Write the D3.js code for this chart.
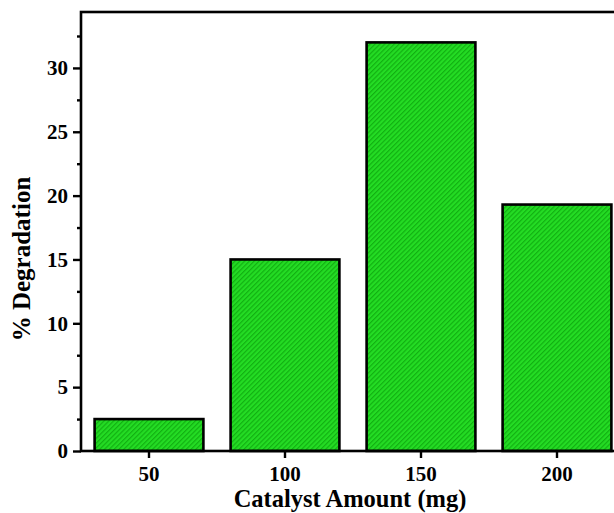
<!DOCTYPE html>
<html><head><meta charset="utf-8">
<script src="https://cdn.jsdelivr.net/npm/d3@7"></script>
<style>body{margin:0;background:#fff}svg{display:block}</style>
</head><body>
<svg id="c" width="614" height="513"></svg>
<script>
const categories = ["50", "100", "150", "200"];
const values = [2.5, 15, 32, 19.3];
const yTicks = [0, 5, 10, 15, 20, 25, 30];
const yMinorTicks = [2.5, 7.5, 12.5, 17.5, 22.5, 27.5, 32.5];
const xTitle = "Catalyst Amount (mg)";
const yTitle = "% Degradation";

const svg = d3.select("#c");
const pLeft = 81, pRight = 625, pTop = 12, pBottom = 451;
const font = "Liberation Serif, Times New Roman, serif";

const defs = svg.append("defs");
const pat = defs.append("pattern").attr("id", "hatch").attr("patternUnits", "userSpaceOnUse")
  .attr("width", 3.4).attr("height", 3.4).attr("patternTransform", "rotate(45)");
pat.append("rect").attr("width", 3.4).attr("height", 3.4).attr("fill", "#24dc24");
pat.append("rect").attr("x", 0).attr("width", 1.2).attr("height", 3.4).attr("fill", "#12b012");

const x = d3.scaleBand().domain(categories).range([pLeft, pRight]).paddingInner(0.2).paddingOuter(0.1);
const y = d3.scaleLinear().domain([0, 34.38]).range([pBottom, pTop]);

// bars
svg.append("g").selectAll("rect").data(values).join("rect")
  .attr("x", (d, i) => x(categories[i]))
  .attr("y", d => y(d))
  .attr("width", x.bandwidth())
  .attr("height", d => y(0) - y(d))
  .attr("fill", "url(#hatch)")
  .attr("stroke", "#000").attr("stroke-width", 2.6);

// frame
svg.append("rect").attr("x", pLeft).attr("y", pTop).attr("width", pRight - pLeft).attr("height", pBottom - pTop)
  .attr("fill", "none").attr("stroke", "#000").attr("stroke-width", 2.6);

// y axis
const yAxis = d3.axisLeft(y).tickValues(yTicks).tickSize(8).tickPadding(5).tickFormat(d3.format("d"));
const gy = svg.append("g").attr("transform", `translate(${pLeft},0)`).call(yAxis);
gy.select(".domain").remove();
gy.selectAll(".tick line").attr("stroke-width", 2.4);
gy.selectAll(".tick text").style("font-family", font).style("font-weight", "bold").style("font-size", "21px").attr("fill", "#000");
const gym = svg.append("g").attr("transform", `translate(${pLeft},0)`)
  .call(d3.axisLeft(y).tickValues(yMinorTicks).tickSize(4).tickFormat(""));
gym.select(".domain").remove();
gym.selectAll(".tick line").attr("stroke-width", 2.4);

// x axis
const gx = svg.append("g").attr("transform", `translate(0,${pBottom})`)
  .call(d3.axisBottom(x).tickSize(7).tickPadding(8));
gx.select(".domain").remove();
gx.selectAll(".tick line").attr("stroke-width", 2.4);
gx.selectAll(".tick text").style("font-family", font).style("font-weight", "bold").style("font-size", "21px").attr("fill", "#000");

// titles
svg.append("text").attr("x", 350).attr("y", 507).attr("text-anchor", "middle")
  .style("font-family", font).style("font-weight", "bold").style("font-size", "24.5px").text(xTitle);
svg.append("text").attr("transform", `translate(30,259) rotate(-90)`).attr("text-anchor", "middle")
  .style("font-family", font).style("font-weight", "bold").style("font-size", "25px").text(yTitle);
</script>
</body></html>
